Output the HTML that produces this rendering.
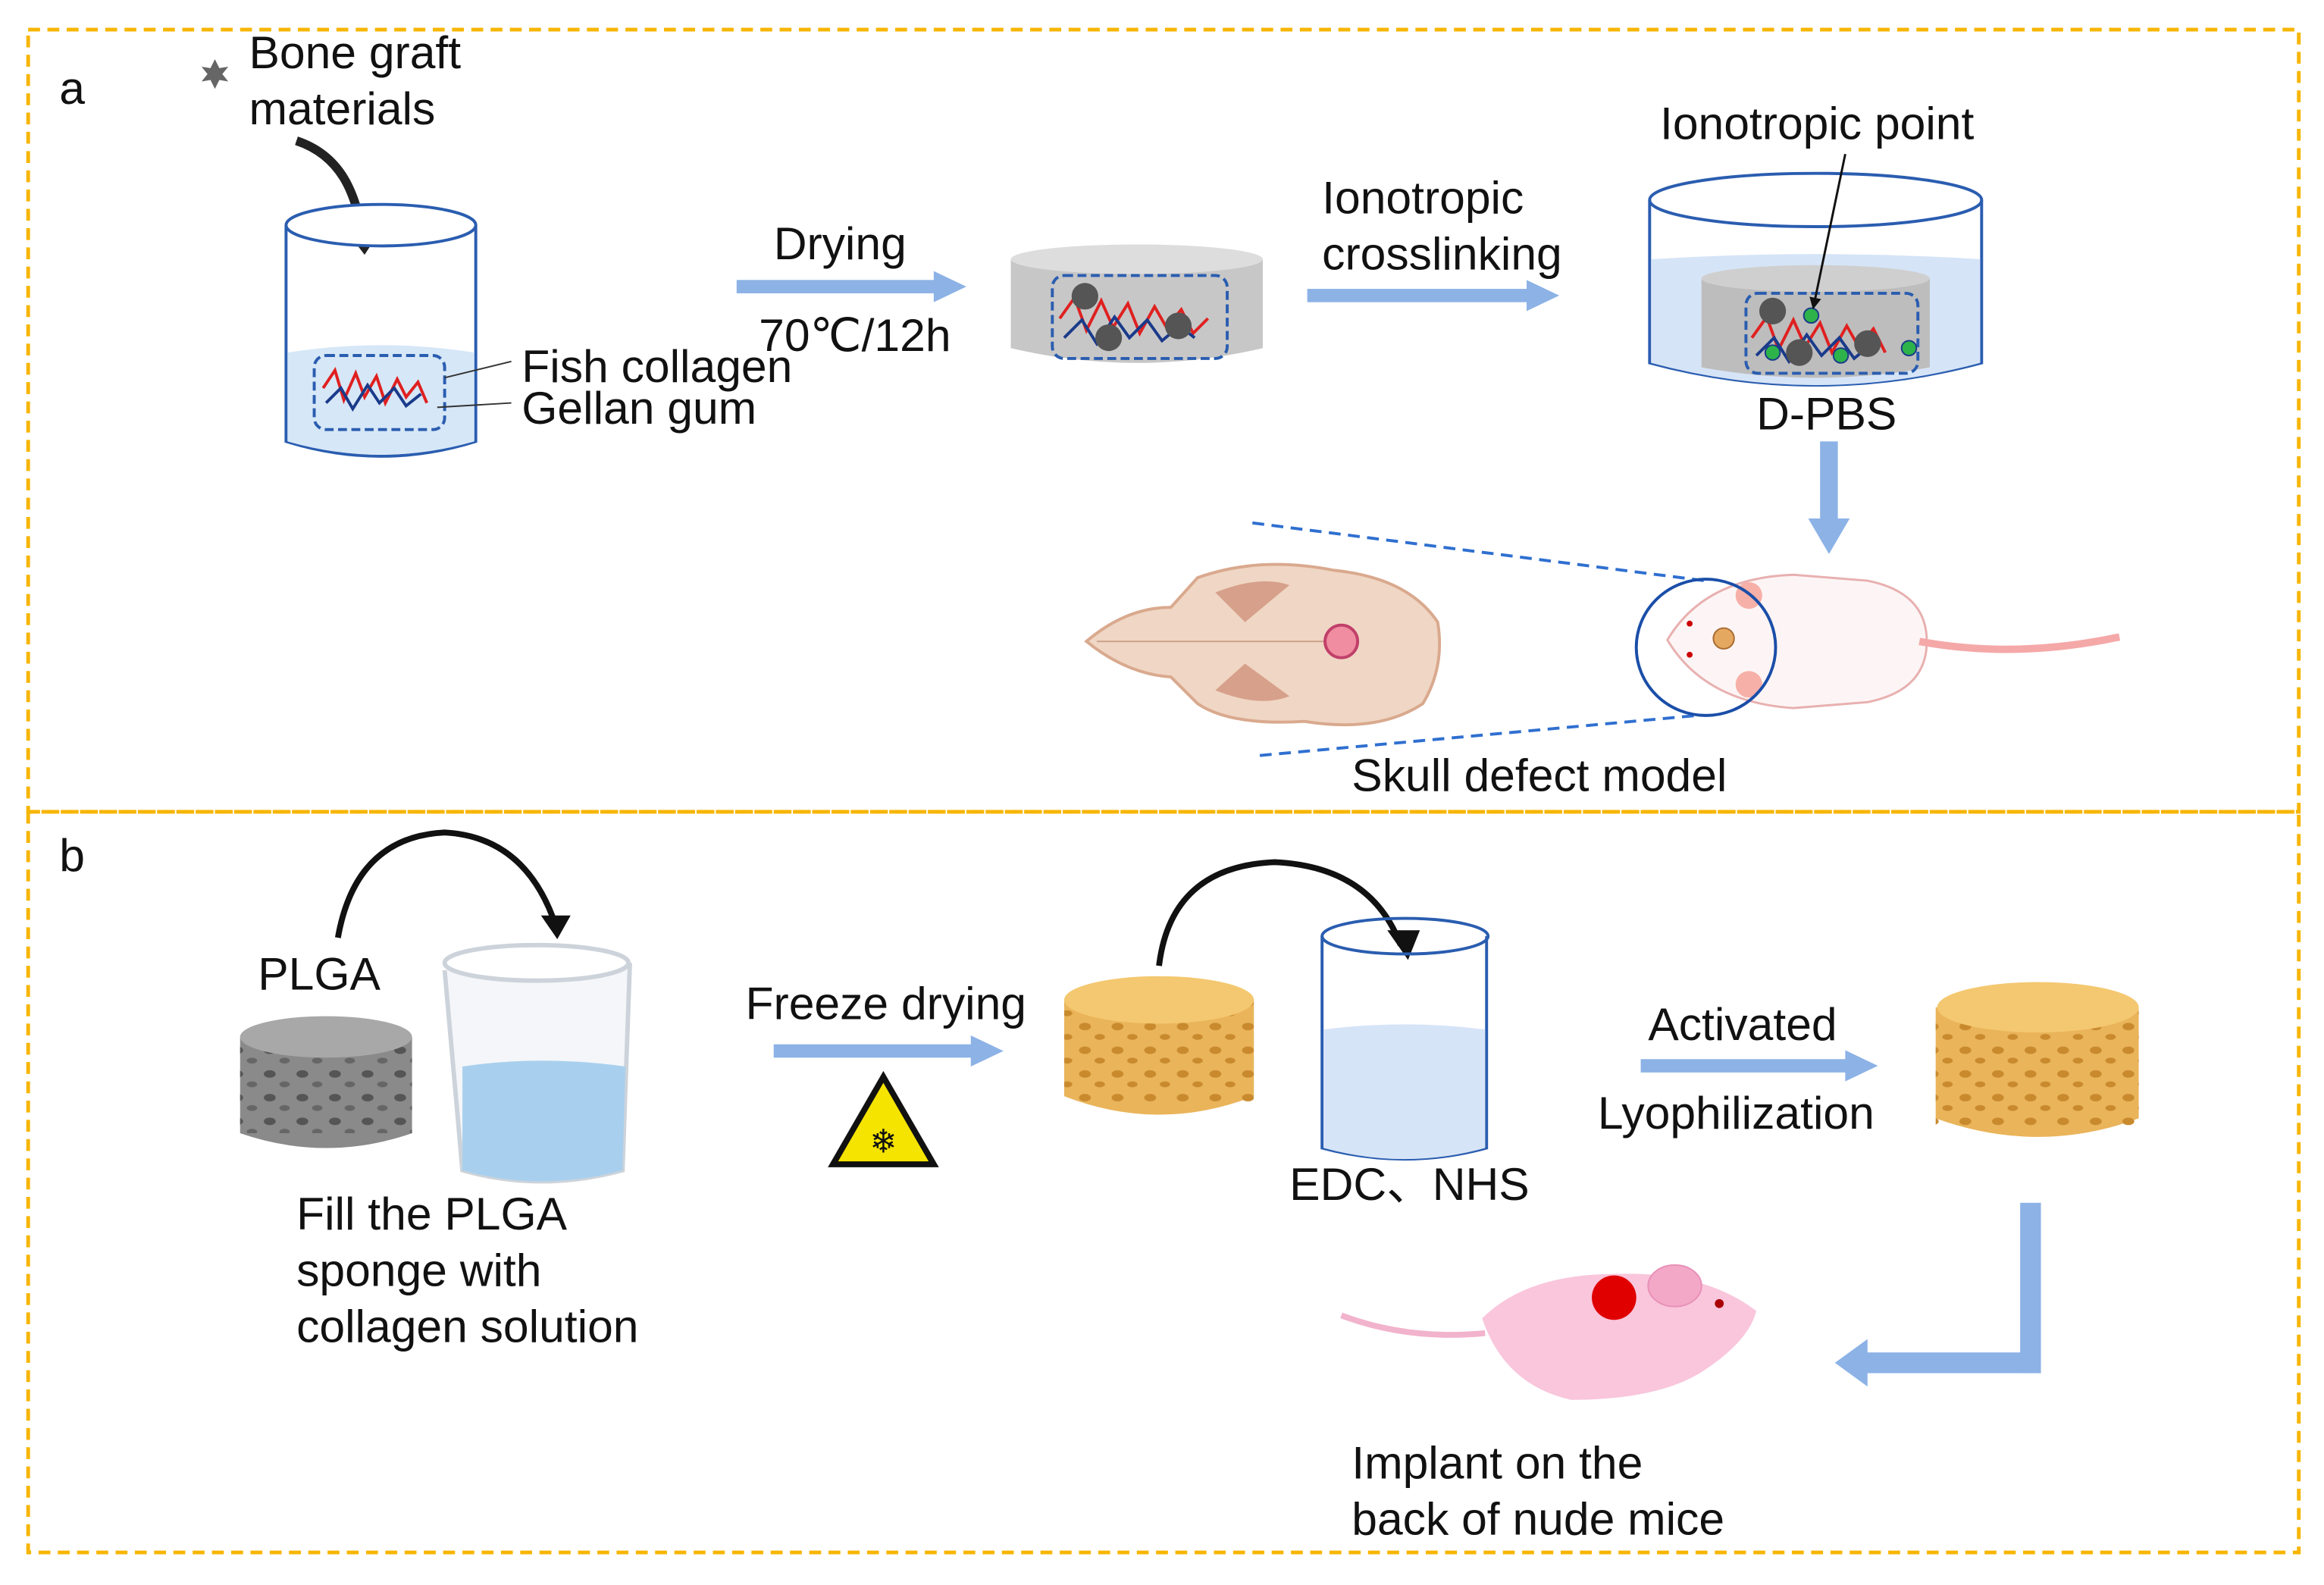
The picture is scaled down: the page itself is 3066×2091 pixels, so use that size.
<!DOCTYPE html>
<html><head><style>html,body{margin:0;padding:0;background:#fff}svg{display:block}</style></head>
<body>
<svg width="3066" height="2091" viewBox="0 0 1568 1070" preserveAspectRatio="none" xmlns="http://www.w3.org/2000/svg" font-family="Liberation Sans, Arial, sans-serif">
<defs>
<marker id="ah" markerWidth="8" markerHeight="8" refX="4" refY="4" orient="auto" markerUnits="userSpaceOnUse"><path d="M0,0 L8,4 L0,8 z" fill="#111"/></marker>
<pattern id="holes" width="22" height="16" patternUnits="userSpaceOnUse"><ellipse cx="6" cy="5" rx="4" ry="2.5" fill="#c98a2e"/><ellipse cx="16" cy="12" rx="3.5" ry="2" fill="#c98a2e"/></pattern>
<pattern id="gholes" width="22" height="16" patternUnits="userSpaceOnUse"><ellipse cx="6" cy="5" rx="4" ry="2.5" fill="#555"/><ellipse cx="16" cy="12" rx="3.5" ry="2" fill="#666"/></pattern>
</defs>
<rect x="19" y="20" width="1532" height="528" fill="none" stroke="#f7b500" stroke-width="2.5" stroke-dasharray="8,5"/>
<rect x="19" y="548" width="1532" height="500" fill="none" stroke="#f7b500" stroke-width="2.5" stroke-dasharray="8,5"/>
<g font-size="31" fill="#111">
<text x="40" y="70">a</text>
<text x="40" y="588">b</text>
<text x="168" y="46">Bone graft</text>
<text x="168" y="84">materials</text>
<text x="522" y="175">Drying</text>
<text x="512" y="237">70℃/12h</text>
<text x="352" y="258">Fish collagen</text>
<text x="352" y="286">Gellan gum</text>
<text x="892" y="144">Ionotropic</text>
<text x="892" y="182">crosslinking</text>
<text x="1120" y="94">Ionotropic point</text>
<text x="1185" y="290">D-PBS</text>
<text x="912" y="534">Skull defect model</text>
<text x="174" y="668">PLGA</text>
<text x="200" y="830">Fill the PLGA</text>
<text x="200" y="868">sponge with</text>
<text x="200" y="906">collagen solution</text>
<text x="503" y="688">Freeze drying</text>
<text x="870" y="810">EDC、NHS</text>
<text x="1112" y="702">Activated</text>
<text x="1078" y="762">Lyophilization</text>
<text x="912" y="998">Implant on the</text>
<text x="912" y="1036">back of nude mice</text>
</g>
<polygon points="145,40 148,46 154,45 150,50 154,55 148,54 145,60 142,54 136,55 140,50 136,45 142,46" fill="#666"/>
<path d="M200,95 C230,105 240,130 245,160" fill="none" stroke="#222" stroke-width="6"/>
<polygon points="233,155 257,155 246,172" fill="#222"/>
<path d="M193,152 L193,298 Q257,318 321,298 L321,152" fill="none" stroke="#2a5db0" stroke-width="2"/>
<ellipse cx="257" cy="152" rx="64" ry="14" fill="#fff" stroke="#2a5db0" stroke-width="2"/>
<path d="M194,238 Q257,228 320,238 L320,298 Q257,316 194,298z" fill="#d6e7f7"/>
<rect x="212" y="240" width="88" height="50" rx="8" fill="none" stroke="#2a5db0" stroke-width="2" stroke-dasharray="6,3"/>
<path d="M218,262 l8,-12 6,20 8,-18 6,16 8,-14 6,18 8,-16 6,12 8,-10 6,14" fill="none" stroke="#e02020" stroke-width="2"/>
<path d="M220,272 l10,-10 8,14 10,-16 8,12 10,-10 8,12 10,-8" fill="none" stroke="#1a3a8a" stroke-width="2"/>
<line x1="300" y1="255" x2="345" y2="244" stroke="#333" stroke-width="1"/>
<line x1="295" y1="275" x2="345" y2="272" stroke="#333" stroke-width="1"/>
<g fill="#8cb2e6">
<rect x="497" y="189" width="135" height="9"/><polygon points="630,183 652,193.5 630,204"/>
<rect x="882" y="195" width="150" height="9"/><polygon points="1030,189 1052,199.5 1030,210"/>
<rect x="1228" y="298" width="12" height="55"/><polygon points="1220,350 1248,350 1234,374"/>
<rect x="522" y="705" width="135" height="9"/><polygon points="655,699 677,709.5 655,720"/>
<rect x="1107" y="715" width="140" height="9"/><polygon points="1245,709 1267,719.5 1245,730"/>
<rect x="1363" y="812" width="14" height="115"/><rect x="1258" y="913" width="119" height="14"/><polygon points="1260,904 1238,920 1260,936"/>
</g>
<path d="M682,175 L682,235 Q767,255 852,235 L852,175z" fill="#c7c7c7"/>
<ellipse cx="767" cy="175" rx="85" ry="10" fill="#ddd"/>
<rect x="710" y="186" width="118" height="56" rx="8" fill="none" stroke="#2a5db0" stroke-width="2" stroke-dasharray="6,3"/>
<path d="M715,215 l10,-14 8,22 10,-20 8,18 10,-16 8,20 10,-18 8,14 10,-12 8,16 10,-10" fill="none" stroke="#e02020" stroke-width="2"/>
<path d="M718,228 l12,-12 10,16 12,-18 10,14 12,-12 10,14 12,-10 10,8" fill="none" stroke="#1a3a8a" stroke-width="2"/>
<g fill="#555"><circle cx="732" cy="200" r="9"/><circle cx="748" cy="228" r="9"/><circle cx="795" cy="220" r="9"/></g>
<path d="M1113,135 L1113,245 Q1225,275 1337,245 L1337,135" fill="none" stroke="#2a5db0" stroke-width="2"/>
<path d="M1114,175 Q1225,168 1336,175 L1336,245 Q1225,275 1114,245z" fill="#d6e4f7"/>
<ellipse cx="1225" cy="135" rx="112" ry="18" fill="none" stroke="#2a5db0" stroke-width="2"/>
<path d="M1148,188 L1148,248 Q1225,262 1302,248 L1302,188z" fill="#bdbdbd"/>
<ellipse cx="1225" cy="188" rx="77" ry="9" fill="#cfcfcf"/>
<rect x="1178" y="198" width="116" height="54" rx="8" fill="none" stroke="#2a5db0" stroke-width="2" stroke-dasharray="6,3"/>
<path d="M1182,228 l10,-14 8,22 10,-20 8,18 10,-16 8,20 10,-18 8,14 10,-12 8,16" fill="none" stroke="#e02020" stroke-width="2"/>
<path d="M1185,240 l12,-12 10,16 12,-18 10,14 12,-12 10,14 12,-10" fill="none" stroke="#1a3a8a" stroke-width="2"/>
<g fill="#555"><circle cx="1196" cy="210" r="9"/><circle cx="1214" cy="238" r="9"/><circle cx="1260" cy="232" r="9"/></g>
<g fill="#2db34a" stroke="#1a3a8a"><circle cx="1222" cy="213" r="5"/><circle cx="1196" cy="238" r="5"/><circle cx="1242" cy="240" r="5"/><circle cx="1288" cy="235" r="5"/></g>
<line x1="1245" y1="104" x2="1224" y2="205" stroke="#111" stroke-width="1.5" marker-end="url(#ah)"/>
<path d="M733,433 Q760,410 790,410 L808,390 Q850,375 900,385 Q950,390 970,420 Q975,450 960,475 Q930,495 880,487 Q830,490 808,475 L790,457 Q760,455 733,433z" fill="#f0d6c4" stroke="#d9a98e" stroke-width="2"/>
<path d="M820,400 Q850,388 870,395 L840,420z M820,466 Q850,478 870,470 L840,448z" fill="#d6a08a"/>
<line x1="740" y1="433" x2="900" y2="433" stroke="#c9a08a" stroke-width="1"/>
<circle cx="905" cy="433" r="11" fill="#f08da0" stroke="#c0406a" stroke-width="2"/>
<line x1="845" y1="353" x2="1150" y2="392" stroke="#2f6fd0" stroke-width="2" stroke-dasharray="8,5"/>
<line x1="850" y1="510" x2="1145" y2="483" stroke="#2f6fd0" stroke-width="2" stroke-dasharray="8,5"/>
<path d="M1125,432 Q1150,390 1210,388 L1260,392 Q1300,400 1300,433 Q1300,466 1260,474 L1210,478 Q1150,474 1125,432z" fill="#fdf5f5" stroke="#e8b0b0" stroke-width="1.5"/>
<path d="M1295,433 Q1360,445 1430,430" fill="none" stroke="#f5a8a8" stroke-width="5"/>
<circle cx="1180" cy="402" r="9" fill="#f7b0a8"/><circle cx="1180" cy="462" r="9" fill="#f7b0a8"/>
<circle cx="1163" cy="431" r="7" fill="#e4a860" stroke="#a86a30"/>
<circle cx="1140" cy="421" r="2" fill="#c00"/><circle cx="1140" cy="442" r="2" fill="#c00"/>
<ellipse cx="1151" cy="437" rx="47" ry="46" fill="none" stroke="#1a4ea8" stroke-width="2"/>
<path d="M228,633 Q240,565 300,562 Q355,565 375,625" fill="none" stroke="#111" stroke-width="4"/>
<polygon points="365,618 385,618 376,634" fill="#111"/>
<path d="M162,700 L162,765 Q220,785 278,765 L278,700z" fill="#8a8a8a"/>
<rect x="162" y="700" width="116" height="65" fill="url(#gholes)"/>
<ellipse cx="220" cy="700" rx="58" ry="14" fill="#a8a8a8"/>
<path d="M300,655 L312,790 Q365,805 420,790 L425,650" fill="#f4f6f9" stroke="#cdd3da" stroke-width="3"/>
<path d="M312,720 Q365,712 422,720 L420,790 Q365,805 312,790z" fill="#a8d0ee"/>
<ellipse cx="362" cy="650" rx="62" ry="12" fill="#fff" stroke="#cdd3da" stroke-width="3"/>
<polygon points="596,727 562,786 630,786" fill="#f5e300" stroke="#111" stroke-width="4"/>
<text x="596" y="778" font-size="22" text-anchor="middle" fill="#111">❄</text>
<path d="M718,675 L718,740 Q782,765 846,740 L846,675z" fill="#eab45a"/>
<rect x="718" y="675" width="128" height="70" fill="url(#holes)"/>
<ellipse cx="782" cy="675" rx="64" ry="16" fill="#f4c870"/>
<path d="M1306,680 L1306,755 Q1375,780 1443,755 L1443,680z" fill="#eab45a"/>
<rect x="1306" y="680" width="137" height="80" fill="url(#holes)"/>
<ellipse cx="1375" cy="680" rx="68" ry="17" fill="#f4c870"/>
<path d="M782,652 Q790,585 860,582 Q925,585 945,638" fill="none" stroke="#111" stroke-width="4"/>
<polygon points="936,628 958,628 950,648" fill="#111"/>
<path d="M892,632 L892,775 Q948,790 1003,775 L1003,632" fill="none" stroke="#2a5db0" stroke-width="2"/>
<path d="M893,695 Q948,688 1002,695 L1002,775 Q948,790 893,775z" fill="#d6e4f7"/>
<ellipse cx="948" cy="632" rx="56" ry="12" fill="none" stroke="#2a5db0" stroke-width="2"/>
<path d="M1000,890 Q1030,860 1090,860 Q1150,858 1185,885 Q1180,905 1150,925 Q1120,945 1060,945 Q1015,935 1000,890z" fill="#f9c6dc"/>
<path d="M1002,900 Q950,905 905,888" fill="none" stroke="#f2b3cc" stroke-width="4"/>
<ellipse cx="1130" cy="868" rx="18" ry="14" fill="#f4a8c8" stroke="#e890b8"/>
<circle cx="1089" cy="876" r="15" fill="#e00000"/>
<circle cx="1160" cy="880" r="3" fill="#a00"/>
</svg>
</body></html>
